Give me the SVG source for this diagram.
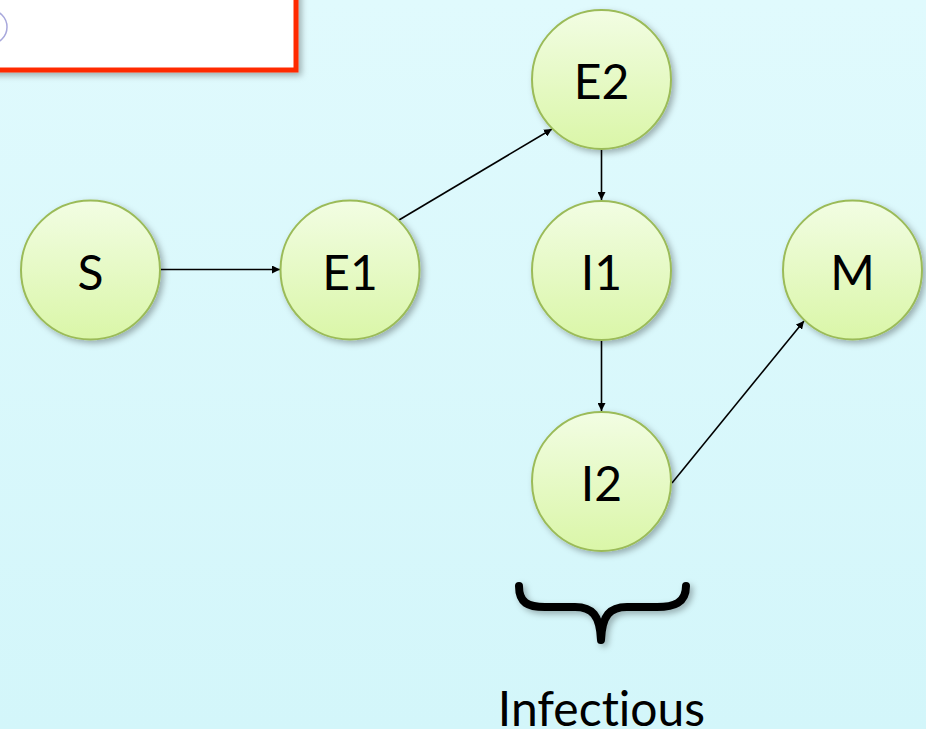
<svg xmlns="http://www.w3.org/2000/svg" width="926" height="729" viewBox="0 0 926 729">
<defs>
<linearGradient id="bg" x1="0" y1="0" x2="0" y2="1">
<stop offset="0" stop-color="#e0fafd"/>
<stop offset="1" stop-color="#d3f6fa"/>
</linearGradient>
<linearGradient id="node" x1="0" y1="0" x2="0" y2="1">
<stop offset="0" stop-color="#f2fde3"/>
<stop offset="1" stop-color="#daf6a8"/>
</linearGradient>
<filter id="sh" x="-20%" y="-20%" width="150%" height="150%">
<feDropShadow dx="3" dy="3" stdDeviation="3" flood-color="#000" flood-opacity="0.3"/>
</filter>
<marker id="ah" viewBox="0 0 10 10" refX="10" refY="5" markerWidth="8" markerHeight="8" orient="auto" markerUnits="userSpaceOnUse">
<path d="M0,0 L10,5 L0,10 z" fill="#000"/>
</marker>
</defs>
<style>
.n circle{fill:url(#node);stroke:#9bbb59;stroke-width:2;filter:url(#sh)}
.n text,.lbl{font-family:Lato,"Open Sans",sans-serif;font-size:48px;fill:#000;text-anchor:middle;font-variant-ligatures:none}
.c line{stroke:#000;stroke-width:1.6;marker-end:url(#ah)}
</style>
<rect width="926" height="729" fill="url(#bg)"/>
<g id="redbox" filter="url(#sh)">
<rect x="-10" y="-10" width="306" height="80" fill="#fff" stroke="#ff2a00" stroke-width="5"/>
</g>
<circle cx="-10" cy="27" r="17" fill="#fff" stroke="#a8a8dc" stroke-width="1.5"/>
<g id="connectors" class="c">
<line x1="160" y1="269.5" x2="280" y2="269.5"/>
<line x1="399" y1="220" x2="552" y2="129"/>
<line x1="601.5" y1="150" x2="601.5" y2="200"/>
<line x1="601.5" y1="341" x2="601.5" y2="411"/>
<line x1="672" y1="483" x2="804" y2="321"/>
</g>
<g id="S" class="n"><circle cx="90.5" cy="270" r="69.5"/><text x="90.5" y="290">S</text></g>
<g id="E1" class="n"><circle cx="350" cy="270" r="69.5"/><text x="350" y="290">E1</text></g>
<g id="E2" class="n"><circle cx="601.5" cy="79.5" r="69.5"/><text x="601.5" y="98.5">E2</text></g>
<g id="I1" class="n"><circle cx="601.5" cy="270.5" r="69.5"/><text x="601.5" y="290">I1</text></g>
<g id="I2" class="n"><circle cx="601.5" cy="481.5" r="69.5"/><text x="601.5" y="501">I2</text></g>
<g id="M" class="n"><circle cx="852.5" cy="270" r="69.5"/><text x="852.5" y="290">M</text></g>
<g id="brace" filter="url(#sh)">
<path d="M519 586 C519 603 528 607 545 607 L575 607 C592 607 600 615 601 640 C602 615 610 607 627 607 L657 607 C674 607 686 603 686 586" fill="none" stroke="#000" stroke-width="8" stroke-linecap="round" stroke-linejoin="round"/>
</g>
<text class="lbl" x="601.5" y="726">Infectious</text>
</svg>
